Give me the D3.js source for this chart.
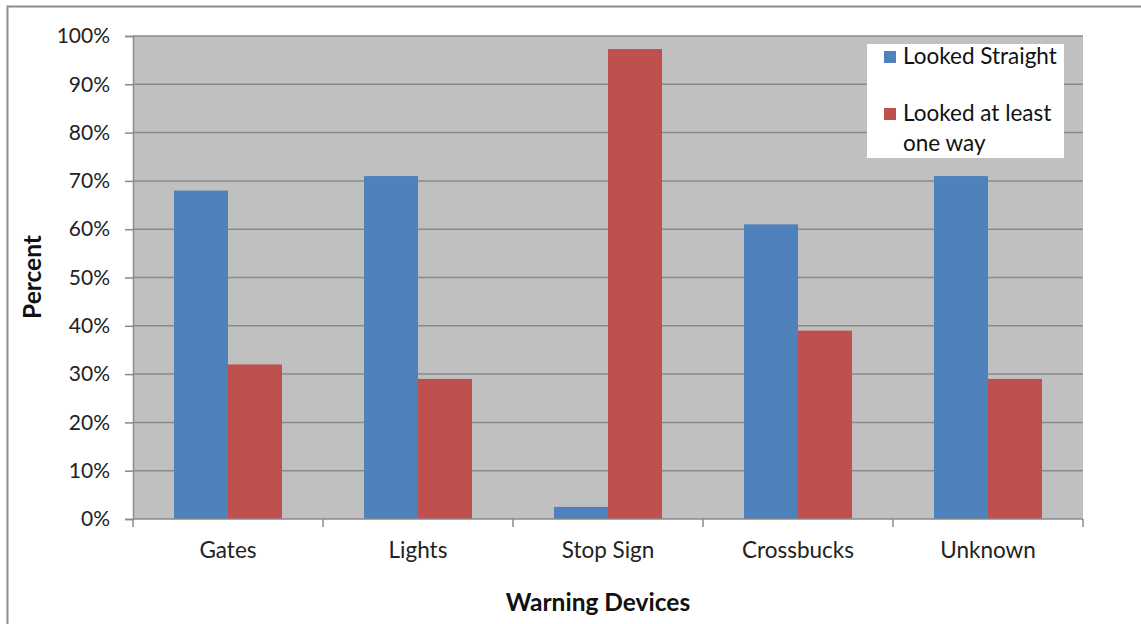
<!DOCTYPE html>
<html><head><meta charset="utf-8">
<script src="https://cdn.jsdelivr.net/npm/d3@7"></script>
<style>body{margin:0;background:#fff}svg{display:block}</style>
</head><body>
<svg id="chart" width="1141" height="624"></svg>
<script>
const categories = ["Gates", "Lights", "Stop Sign", "Crossbucks", "Unknown"];
const seriesNames = ["Looked Straight", "Looked at least one way"];
const lookedStraight = [68, 71, 2.5, 61, 71];
const lookedOneWay = [32, 29, 97.3, 39, 29];
const yTicks = [0, 10, 20, 30, 40, 50, 60, 70, 80, 90, 100];
const colors = ["#4f81bd", "#c0504d"];

const svg = d3.select("#chart");
const font = "Lato, 'Open Sans', sans-serif";
const m = {left: 133, top: 36, right: 1083, bottom: 519};

// outer border
svg.append("rect").attr("x", 7.5).attr("y", 6.5).attr("width", 1200).attr("height", 700)
  .attr("fill", "#fff").attr("stroke", "#8c8c8c").attr("stroke-width", 2);

const x0 = d3.scaleBand().domain(categories).range([m.left, m.right]).paddingInner(0).paddingOuter(0);
const x1 = d3.scaleBand().domain(seriesNames).range([0, x0.bandwidth()]).paddingOuter(41/54 ).paddingInner(0);
const y = d3.scaleLinear().domain([0, 100]).range([m.bottom, m.top]);

svg.append("rect").attr("x", m.left).attr("y", m.top).attr("width", m.right - m.left).attr("height", m.bottom - m.top).attr("fill", "#c0c0c0");

// gridlines
svg.append("g").selectAll("line").data(yTicks.filter(d => d > 0)).join("line")
  .attr("x1", m.left).attr("x2", m.right).attr("y1", d => y(d)).attr("y2", d => y(d))
  .attr("stroke", "#8a8a8a").attr("stroke-width", 1.5);

const data = categories.map((c, i) => ({cat: c, vals: [lookedStraight[i], lookedOneWay[i]]}));
const g = svg.append("g").selectAll("g").data(data).join("g").attr("transform", d => `translate(${x0(d.cat)},0)`);
g.selectAll("rect").data(d => d.vals.map((v, j) => ({v, s: seriesNames[j], j}))).join("rect")
  .attr("x", d => x1(d.s)).attr("width", x1.bandwidth())
  .attr("y", d => y(d.v)).attr("height", d => y(0) - y(d.v))
  .attr("fill", d => colors[d.j]);

// y axis
const yAxis = d3.axisLeft(y).tickValues(yTicks).tickFormat(d => d + "%").tickSize(8).tickPadding(15);
const ya = svg.append("g").attr("transform", `translate(${m.left},0)`).call(yAxis);
ya.select(".domain").attr("stroke", "#8a8a8a").attr("stroke-width", 1.5);
ya.selectAll(".tick line").attr("stroke", "#8a8a8a").attr("stroke-width", 1.5);
ya.selectAll("text").attr("font-family", font).attr("font-size", 21).attr("fill", "#222");

// x axis
const xa = svg.append("g").attr("transform", `translate(0,${m.bottom})`);
xa.append("line").attr("x1", m.left).attr("x2", m.right).attr("stroke", "#8a8a8a").attr("stroke-width", 1.5);
const bounds = categories.map(c => x0(c)).concat([m.right]);
xa.selectAll("line.tk").data(bounds).join("line").attr("class", "tk")
  .attr("x1", d => d).attr("x2", d => d).attr("y1", 0).attr("y2", 8)
  .attr("stroke", "#8a8a8a").attr("stroke-width", 1.5);
xa.selectAll("text").data(categories).join("text")
  .attr("x", d => x0(d) + x0.bandwidth() / 2).attr("y", 39)
  .attr("text-anchor", "middle").attr("font-family", font).attr("font-size", 22.5).attr("fill", "#222")
  .text(d => d);

// axis titles
svg.append("text").attr("transform", "translate(41,277) rotate(-90)").attr("text-anchor", "middle")
  .attr("font-family", font).attr("font-weight", "bold").attr("font-size", 24.5).attr("fill", "#111").text("Percent");
svg.append("text").attr("x", 598).attr("y", 611).attr("text-anchor", "middle")
  .attr("font-family", font).attr("font-weight", "bold").attr("font-size", 24.5).attr("fill", "#111").text("Warning Devices");

// legend
const lg = svg.append("g");
lg.append("rect").attr("x", 867).attr("y", 44).attr("width", 197).attr("height", 114).attr("fill", "#fff");
const legendRows = [
  {color: colors[0], lines: ["Looked Straight"], y: 64},
  {color: colors[1], lines: ["Looked at least", "one way"], y: 121}
];
legendRows.forEach(r => {
  lg.append("rect").attr("x", 884).attr("y", r.y - 13).attr("width", 12).attr("height", 12).attr("fill", r.color);
  r.lines.forEach((t, i) => lg.append("text").attr("x", 903).attr("y", r.y + i * 30)
    .attr("font-family", font).attr("font-size", 22.5).attr("fill", "#111").text(t));
});
</script>
</body></html>
